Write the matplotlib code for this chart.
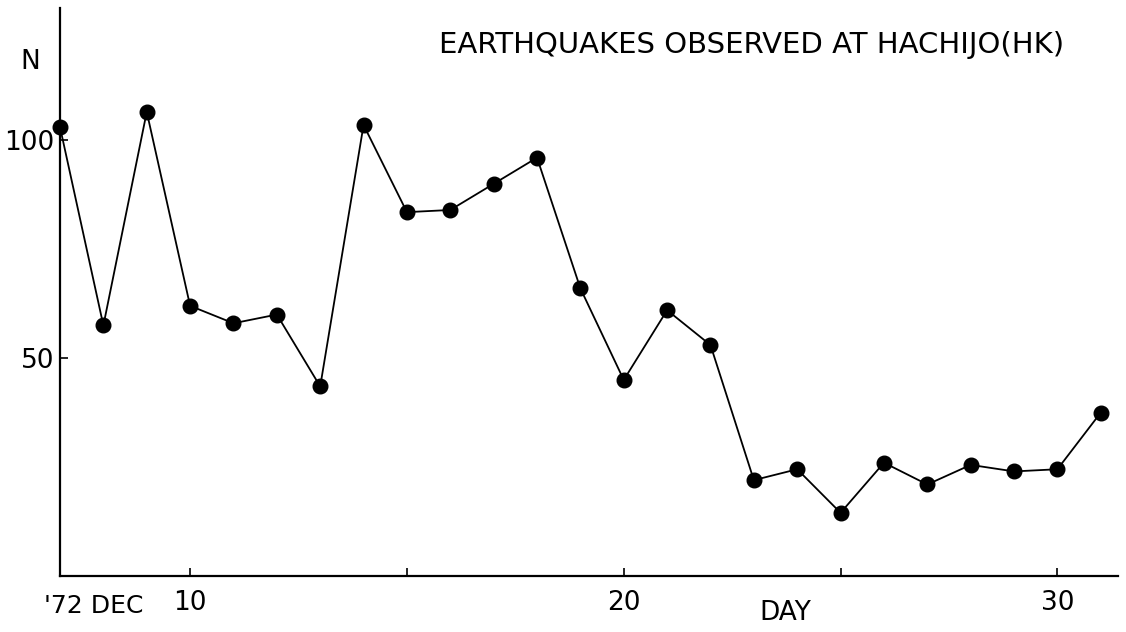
import matplotlib

matplotlib.use("Agg")
import matplotlib.pyplot as plt

# daily counts at Hachijo, December 1972
days = list(range(7, 32))
counts = [103, 57.5, 106.5, 62, 58, 60, 43.5, 103.5, 83.5, 84, 90, 96,
          66, 45, 61, 53, 22, 24.5, 14.5, 26, 21, 25.5, 24, 24.5, 37.5]
x_ticks = [10, 15, 20, 25, 30]
x_labels = ["10", "", "20", "", "30"]
y_ticks = [50, 100]
y_labels = ["50", "100"]

plt.rcParams["font.family"] = ["Liberation Sans Narrow", "DejaVu Sans"]

fig = plt.figure(figsize=(11.26, 6.32), dpi=100)
ax = fig.add_axes([0.0533, 0.0886, 0.9397, 0.8984])
ax.plot(days, counts, color="black", lw=1.3, marker="o", ms=10.5,
        markerfacecolor="black", markeredgecolor="black", clip_on=False)

ax.set_xlim(7, 31.4)
ax.set_ylim(0, 130.3)
for side in ("top", "right"):
    ax.spines[side].set_visible(False)
for side in ("left", "bottom"):
    ax.spines[side].set_linewidth(1.6)

ax.set_xticks(x_ticks)
ax.set_xticklabels(x_labels)
ax.set_yticks(y_ticks)
ax.set_yticklabels(y_labels)
ax.tick_params(axis="both", direction="in", length=6, width=1.2, labelsize=19)
ax.tick_params(axis="x", pad=10)
ax.tick_params(axis="y", pad=4)

ax.text(-0.028, 0.905, "N", transform=ax.transAxes, fontsize=19, ha="center", va="center")
ax.text(-0.015, -0.052, "'72 DEC", transform=ax.transAxes, fontsize=18,
        ha="left", va="center")
ax.text(0.685, -0.065, "DAY", transform=ax.transAxes, fontsize=19,
        ha="center", va="center", fontfamily="DejaVu Sans")
ax.text(0.654, 0.935, "EARTHQUAKES OBSERVED AT HACHIJO(HK)",
        transform=ax.transAxes, fontsize=21, ha="center", va="center",
        fontfamily="DejaVu Sans")

fig.savefig("out.png", dpi=100)
